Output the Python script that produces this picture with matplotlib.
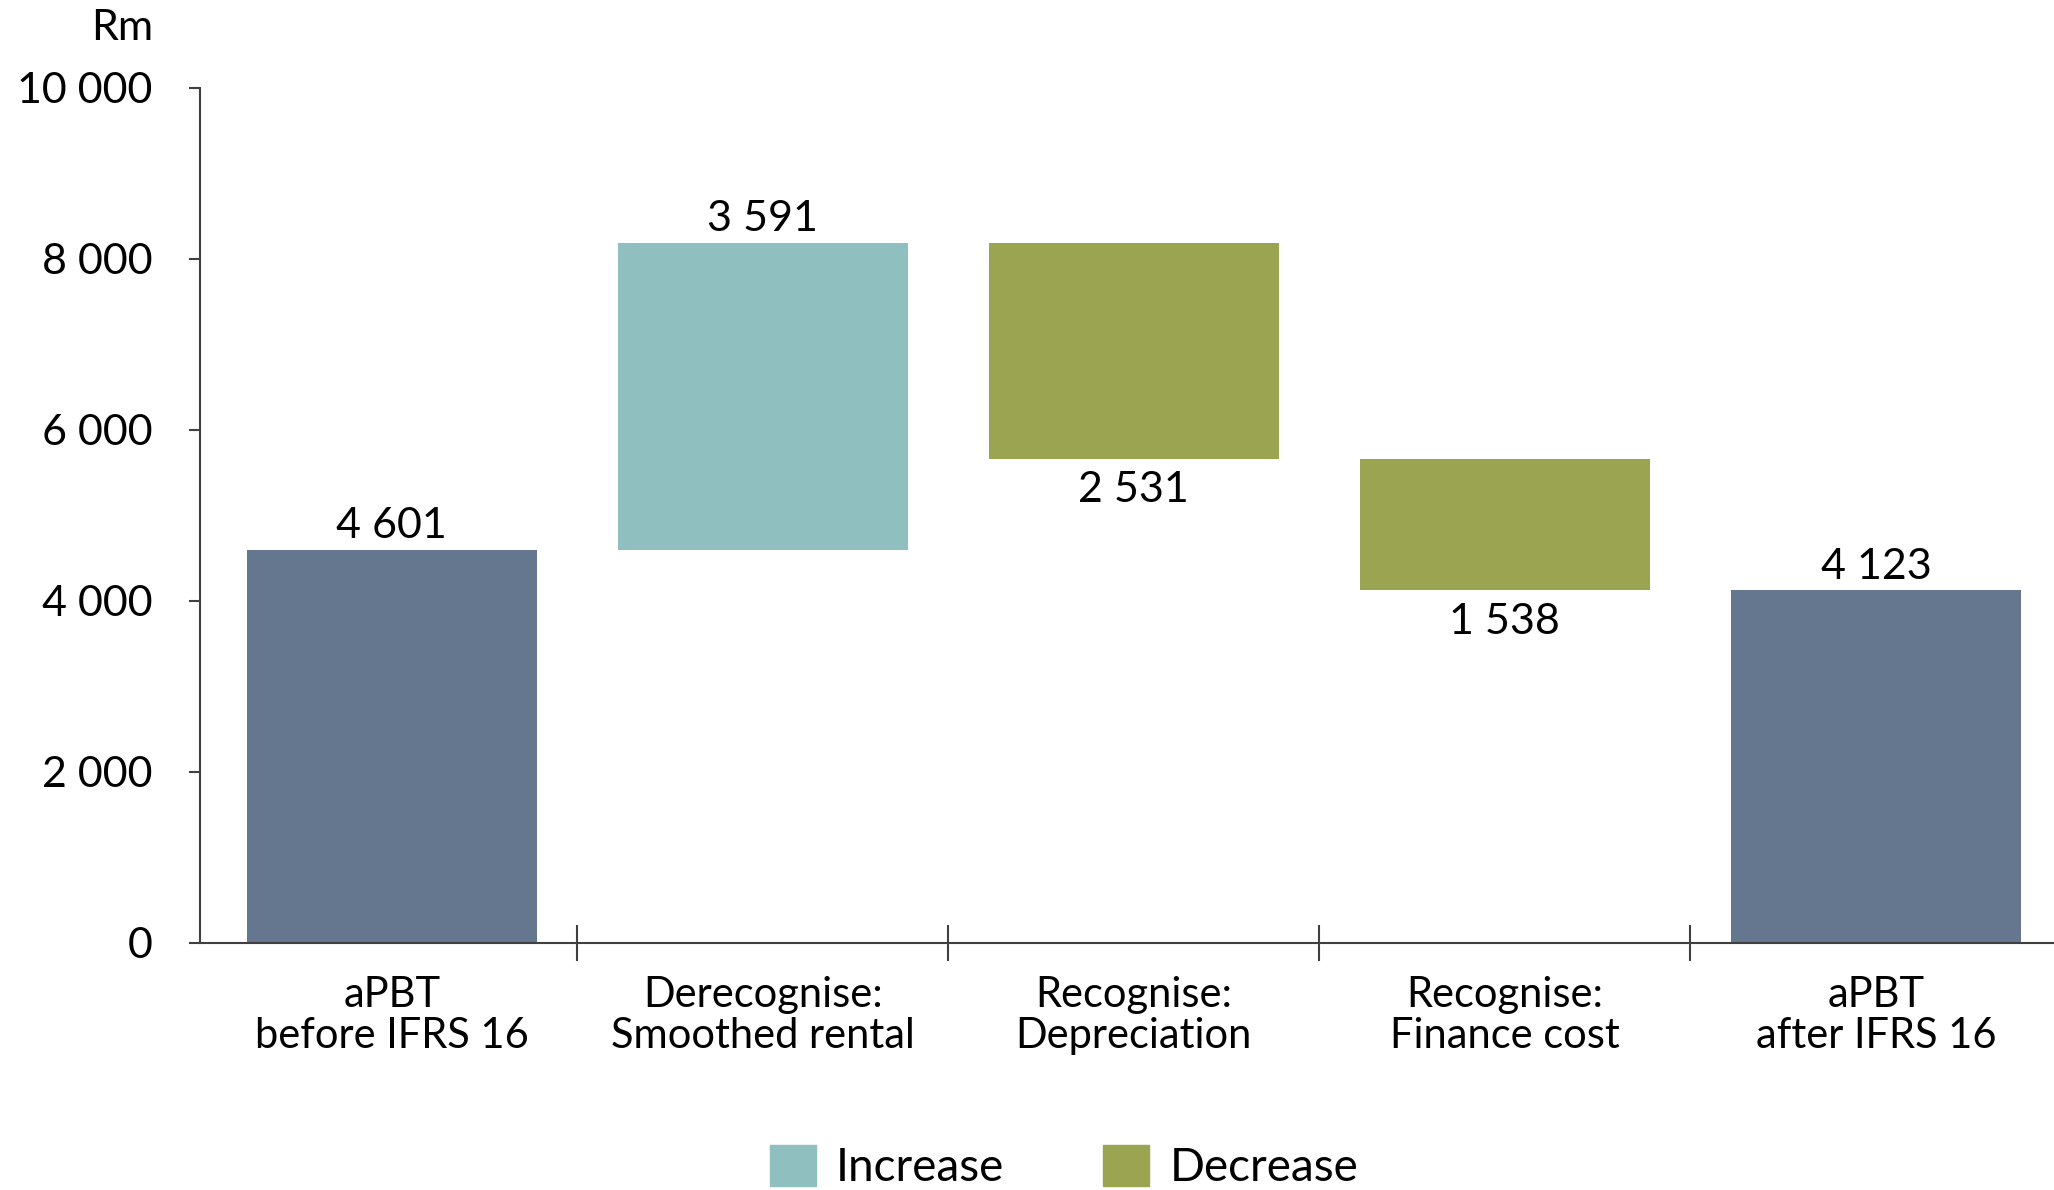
import numpy as np
import matplotlib.pyplot as plt
from matplotlib.patches import Patch

plt.rcParams['font.family'] = ['Lato', 'DejaVu Sans']

# aPBT bridge, Rm
categories = ["aPBT\nbefore IFRS 16", "Derecognise:\nSmoothed rental",
              "Recognise:\nDepreciation", "Recognise:\nFinance cost",
              "aPBT\nafter IFRS 16"]
values = [4601, 3591, -2531, -1538, 4123]
kinds = ["total", "step", "step", "step", "total"]
labels = ["4 601", "3 591", "2 531", "1 538", "4 123"]

c_total = "#64778f"
c_up = "#8fbfbe"
c_down = "#9ba450"
axis_col = "#404040"

fig = plt.figure(figsize=(20.54, 11.9), dpi=100)
ax = fig.add_axes([200 / 2054, 0.2076, 1 - 200 / 2054, 0.7185])

# running totals for the floating bars
bottoms, heights, colours = [], [], []
level = 0
for v, k in zip(values, kinds):
    if k == "total":
        bottoms.append(0)
        heights.append(v)
        colours.append(c_total)
        level = v
    else:
        bottoms.append(level if v > 0 else level + v)
        heights.append(abs(v))
        colours.append(c_up if v > 0 else c_down)
        level += v

x = np.arange(len(categories))
ax.bar(x, heights, bottom=bottoms, width=0.78, color=colours, zorder=2)

for xi, v, k, b, h, lab in zip(x, values, kinds, bottoms, heights, labels):
    if k == "total" or v > 0:
        ax.annotate(lab, (xi, b + h), xytext=(0, 3), textcoords="offset points",
                    ha="center", va="bottom", fontsize=31)
    else:
        ax.annotate(lab, (xi, b), xytext=(0, -9), textcoords="offset points",
                    ha="center", va="top", fontsize=31)

ax.set_xlim(-0.517, 4.48)
ax.set_ylim(0, 10000)
ax.set_yticks(np.arange(0, 10001, 2000))
ax.set_yticklabels(["0", "2 000", "4 000", "6 000", "8 000", "10 000"], fontsize=31)
ax.tick_params(axis="y", direction="out", length=8, width=1.5, color=axis_col, pad=26)

ax.set_xticks(x)
ax.set_xticklabels(categories, fontsize=30, linespacing=1.1)
ax.tick_params(axis="x", which="major", length=0, pad=24)
ax.set_xticks(np.arange(0.5, 4.5, 1), minor=True)
ax.tick_params(axis="x", which="minor", direction="inout", length=26, width=1.5, color=axis_col)

for s in ["top", "right"]:
    ax.spines[s].set_visible(False)
for s in ["left", "bottom"]:
    ax.spines[s].set_color(axis_col)
    ax.spines[s].set_linewidth(1.5)

fig.text(153 / 2054, 1 - 28 / 1190, "Rm", ha="right", va="center", fontsize=31)

handles = [Patch(color=c_up, label="Increase"), Patch(color=c_down, label="Decrease")]
fig.legend(handles=handles, loc="center", bbox_to_anchor=(0.518, 0.019), ncol=2,
           frameon=False, fontsize=33, handlelength=1.0, handleheight=1.0,
           handletextpad=0.45, columnspacing=2.15)

fig.savefig("out.png", dpi=100)
